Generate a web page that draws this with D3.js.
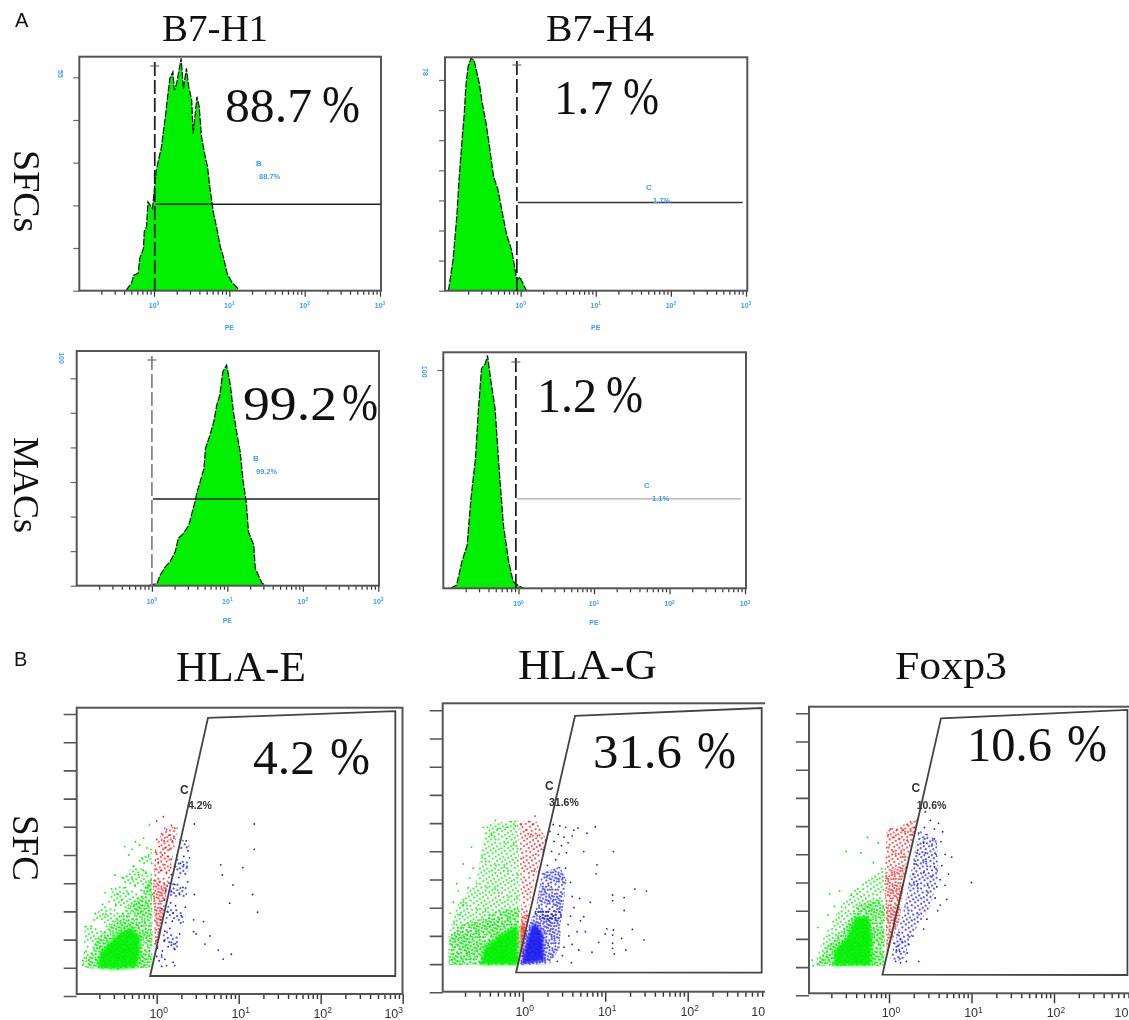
<!DOCTYPE html>
<html>
<head>
<meta charset="utf-8">
<script src="https://cdn.jsdelivr.net/npm/d3@7"></script>
<style>
  html, body { margin: 0; background: #fff; }
  svg { display: block; filter: blur(0.45px); }
  .serif { font-family: "Liberation Serif", serif; fill: #111; }
  .sans { font-family: "Liberation Sans", sans-serif; }
  .blue { fill: #3c9bf5; font-weight: bold; }
  .domain { display: none; }
</style>
</head>
<body>
<div id="chart"></div>
<script>
// ---- A: histogram outlines, x as log10(PE), y as events ----
const b7h1SfcExp = [-.37,-.34,-.30,-.27,-.21,-.19,-.14,-.13,-.10,-.08,-.02,0,.03,.06,.10,.12,.15,.18,.21,.25,.27,.30,.34,.36,.39,.43,.46,.50,.52,.57,.60,.63,.68,.71,.74,.79,.83,.88,.92,.97,1.03,1.11,1.12];
const b7h1SfcCount = [0,.9,1.9,4,4.5,8.3,10.9,15.2,16.5,22.9,21.2,25.1,31.1,33.7,37.1,40.5,44.8,50,54.7,56.4,51.7,53.4,57.7,59.9,52.1,57.3,52.6,49.1,40.5,50,47.4,39.7,34.5,32,26.8,19.9,16.5,11.3,8.8,4.5,2.3,.6,0];
const b7h4SfcExp = [-.96,-.94,-.90,-.85,-.82,-.78,-.75,-.73,-.70,-.66,-.62,-.59,-.55,-.51,-.46,-.42,-.36,-.30,-.25,-.19,-.12,-.08,-.05,-.01,.04,.08];
const b7h4SfcCount = [0,3.5,10.2,24.6,36.8,50,58.9,67.7,74.4,77.2,76.6,73.3,68.9,62.2,55.6,48.9,37.9,33.4,26.8,19,13.5,8,3.5,4.6,1.9,0];
const b7h1MacExp = [-.04,.07,.11,.18,.24,.31,.35,.42,.49,.53,.56,.60,.64,.69,.71,.77,.82,.86,.90,.94,.99,1.04,1.08,1.13,1.17,1.21,1.25,1.28,1.35,1.37,1.46,1.52];
const b7h1MacCount = [0,1.4,6.2,11,13.9,19.7,27.4,30.3,35.1,41.9,46.7,54.4,60.2,67.9,79.5,87.2,94.9,104.6,110.3,123.8,127.7,116.1,100.7,87.2,77.5,60.2,48.6,31.2,23.5,10,1.4,0];
const b7h4MacExp = [-.90,-.82,-.75,-.68,-.63,-.57,-.53,-.49,-.44,-.41,-.37,-.31,-.26,-.20,-.13,-.07,0,.07];
const b7h4MacCount = [0,1.5,12.2,19.8,41.1,59.4,82.3,100.6,102.9,106.7,96,82.3,56.4,29,12.2,3,1.2,0];

// ---- B: gates and events, [log10(x), y in tick units] ----
const hlaEGate = [[-.08,.71],[.625,9.86],[2.91,10.1],[2.91,.71]];
const hlaGGate = [[-.08,.71],[.634,9.8],[2.897,10.08],[2.897,.7]];
const foxp3Gate = [[-.08,.73],[.63,9.82],[2.89,10.12],[2.89,.72]];

// regions too crowded to read single events: outline + how full it looks (1 = speckle, "solid" = merged)
const hlaEAreas = [
  {c:"g",d:.4,p:[[-.9,.98],[-.88,2.4],[-.66,3.2],[-.5,3.9],[-.35,4.4],[-.22,4.9],[-.06,5.2],[-.05,1]]},
  {c:"g",d:1,p:[[-.85,.98],[-.82,1.6],[-.66,2.25],[-.5,2.7],[-.36,3.1],[-.2,3.6],[-.06,4.2],[-.05,2.2],[-.07,1],[-.5,.93]]},
  {c:"r",d:1,p:[[-.02,1.81],[-.05,4],[.14,4],[.04,2.1]]},
  {c:"r",d:.45,p:[[-.04,4],[-.02,5.3],[.1,6],[.26,6],[.14,4]]},
  {c:"b",d:.25,p:[[.03,1.3],[.12,3],[.28,5.6],[.4,5.4],[.36,3],[.25,1.6]]},
  {c:"g",solid:true,p:[[-.72,1],[-.7,1.5],[-.58,1.9],[-.44,2.3],[-.3,2.4],[-.2,2.1],[-.2,1.5],[-.25,1],[-.5,.95]]}
];
const hlaGAreas = [
  {c:"g",d:.55,p:[[-.88,.97],[-.9,1.97],[-.8,3.04],[-.56,3.98],[-.44,5.99],[-.05,6.1],[-.03,2.56],[-.04,.97]]},
  {c:"g",d:1,p:[[-.9,.97],[-.9,1.9],[-.75,2.4],[-.5,2.6],[-.3,2.9],[-.05,3],[-.04,.97]]},
  {c:"r",d:1,p:[[-.03,1.09],[-.02,2.68],[.07,2.8],[.02,1.3]]},
  {c:"r",d:.5,p:[[-.02,2.68],[-.04,6.1],[.17,6.05],[.29,5.4],[.15,4.1],[.05,2.68]]},
  {c:"b",d:.9,p:[[.15,2.8],[.23,4.22],[.45,4.46],[.53,3.98],[.47,2.56],[.29,2.5]]},
  {c:"b",d:1,p:[[-.03,.97],[.05,2.21],[.15,2.9],[.47,2.9],[.45,1.6],[.33,1]]},
  {c:"g",solid:true,p:[[-.52,.98],[-.46,1.6],[-.3,2],[-.06,2.4],[-.05,.98]]},
  {c:"b",solid:true,p:[[-.02,1],[.06,2],[.14,2.5],[.25,2.1],[.26,1.1]]},
  {c:"r",solid:true,p:[[-.03,1.3],[-.02,2.4],[.03,2.4]]}
];
const foxp3Areas = [
  {c:"g",d:.5,p:[[-.9,1.08],[-.8,2],[-.6,3.1],[-.38,3.9],[-.05,4.5],[-.05,1.7],[-.06,1.04]]},
  {c:"g",d:1,p:[[-.88,1.04],[-.76,1.7],[-.55,2.35],[-.38,3.2],[-.12,3.4],[-.05,3.1],[-.06,1.04]]},
  {c:"r",d:1,p:[[-.03,1.49],[-.05,4.33],[.21,4.68],[.13,2.67],[.03,1.84]]},
  {c:"r",d:.6,p:[[-.05,4.33],[-.03,5.86],[.34,6.22],[.21,4.68]]},
  {c:"b",d:.55,p:[[.01,1.25],[.17,2.91],[.25,4.09],[.36,5.86],[.58,5.51],[.6,4.21],[.5,3.14],[.29,2.2],[.17,1.19]]},
  {c:"g",solid:true,p:[[-.68,1.05],[-.66,1.6],[-.52,2.05],[-.4,2.8],[-.24,2.8],[-.2,1.9],[-.22,1.05]]}
];

const hlaEGreen = [[-.09,6.06],[-.16,5.6],[-.26,5.47],[-.39,5.3],[-.3,5.2],[-.21,5.35],[-.12,5.25],[-.07,5.2],[-.34,5],[-.18,4.9],[-.1,4.95],[-.28,4.6],[-.16,4.45],[-.06,4.7],[-.51,4.29],[-.42,4.2],[-.3,4.15],[-.22,4.3],[-.13,4.35],[-.07,4.1],[-.63,3.66],[-.55,3.8],[-.47,3.6],[-.38,3.85],[-.35,3.65],[-.26,3.9],[-.19,3.75],[-.11,3.85],[-.05,3.6],[-.66,3.25],[-.58,3.35],[-.5,3.2],[-.43,3.4],[-.75,2.93],[-.62,2.9],[-.87,2.46],[-.8,2.4],[-.9,1.25],[-.9,1.1],[-.86,1.35],[-.84,1.75],[-.88,1.55]];
const hlaERed = [[.08,6.36],[0,6.2],[.18,6.05],[.22,5.95],[.12,5.9],[.06,5.75],[.15,5.7],[.21,5.6],[0,5.55],[.09,5.5],[.19,5.5],[.03,5.3],[.1,5.25],[.16,5.2],[-.01,5.1],[.07,5],[.14,4.95],[.18,4.85],[.02,4.75],[.1,4.65],[.17,4.55],[-.02,4.5],[.05,4.45],[.12,4.35],[.15,4.2],[-.03,4.1],[.03,4.05],[.09,4],[.13,3.9],[-.02,1.85],[.01,1.75],[-.01,1.95]];
const hlaEBlue = [[.46,6.1],[1.19,6.1],[1.19,5.2],[.78,4.65],[1.05,4.55],[.8,4.29],[.93,3.94],[1.17,3.6],[.89,3.29],[1.23,2.97],[.65,2.13],[.59,1.84],[.75,1.63],[.81,1.31],[.91,1.48],[.29,5.55],[.36,5.5],[.3,5.25],[.38,5.15],[.25,5],[.33,4.95],[.4,4.9],[.22,4.6],[.29,4.7],[.33,4.65],[.37,4.6],[.18,4.3],[.27,4.2],[.38,4.05],[.15,4],[.22,3.95],[.32,3.85],[.11,3.75],[.18,3.7],[.28,3.6],[.46,3.6],[.09,3.4],[.17,3.3],[.23,3.2],[.35,3.15],[.06,3.1],[.13,3],[.2,2.95],[.3,2.85],[.05,2.7],[.11,2.6],[.19,2.65],[.45,2.7],[.57,2.64],[.04,2.35],[.1,2.3],[.16,2.4],[.28,2.2],[.45,2.28],[.48,2.2],[.02,2],[.09,1.95],[.18,1.9],[.23,1.85],[.01,1.7],[.07,1.6],[.14,1.75],[.22,1.65],[0,1.4],[.06,1.45],[.03,1.25],[.1,1.3],[.12,1.08],[.2,1.2],[.22,1.08],[.06,1.05]];

const hlaGGreen = [[-.33,6.1],[-.14,6.05],[-.48,5.85],[-.3,5.8],[-.2,5.85],[-.09,5.9],[-.38,5.6],[-.62,5.15],[-.72,4.55],[-.6,4.4],[-.8,3.85],[-.64,4.05],[-.78,3.6],[-.66,3.7],[-.84,3.2],[-.72,3.1],[-.88,2.8],[-.76,2.75]];
const hlaGRed = [[.15,6.25],[.07,6.05],[.12,5.95],[-.02,5.95],[.04,5.75],[.1,5.6],[.18,5.55],[.21,5.2],[.16,4.9],[.14,4.3]];
const hlaGBlue = [[.88,5.87],[.78,5.64],[.67,5.82],[.74,4.99],[1.1,4.99],[.9,4.52],[.89,4.2],[1.36,3.66],[1.5,3.59],[1.09,3.45],[1.23,3.36],[1.09,3.25],[1.23,2.9],[.82,3.19],[.69,3.33],[1.02,2.25],[1.1,2.21],[1,2.07],[1.09,2.03],[1.2,1.91],[1.33,2.23],[1.47,1.86],[.92,1.77],[1.09,1.74],[1.09,1.56],[1.25,1.5],[1.11,1.36],[.84,1.42],[.76,2.15],[.74,2.68],[.7,2.54],[.59,1.05],[.37,5.95],[.45,5.9],[.52,5.85],[.62,5.75],[.33,5.7],[.43,5.6],[.5,5.5],[.6,5.55],[.28,5.4],[.38,5.35],[.47,5.2],[.55,5.3],[.25,5.05],[.35,5],[.44,4.9],[.53,4.95],[.6,3.4],[.62,3],[.58,2.7],[.55,2.4],[.66,2.15],[.56,2],[.6,1.7],[.68,1.5],[.5,1.6],[.48,1.3],[.42,1.1],[.58,3.9],[.52,4.4],[.3,4.5],[.4,4.7],[.2,4.3]];

const foxp3Green = [[-.26,5.6],[-.13,5.4],[-.52,5.1],[-.34,5.05],[-.19,4.7],[-.09,4.5],[-.72,3.6],[-.6,3.7],[-.46,3.55],[-.66,3.15],[-.74,2.85],[-.86,2.4],[-.93,1.25],[-.92,1.05]];
const foxp3Red = [[.34,6.2],[.26,6.15],[.22,6.05],[.31,5.95],[.02,5.9],[.09,5.85],[.17,5.85],[.28,5.7],[-.01,5.7],[.06,5.6],[.13,5.55],[.22,5.5]];
const foxp3Blue = [[.44,6.5],[.5,6.2],[.6,6.1],[.43,5.95],[.55,5.9],[.65,5.8],[.36,5.75],[.46,5.7],[.55,5.55],[.42,5.4],[.52,5.3],[.63,5.45],[.76,4.9],[.68,5],[.34,5.05],[.44,5.05],[.57,5],[.33,4.65],[.45,4.75],[.55,4.55],[.64,4.6],[.3,4.3],[.42,4.35],[.52,4.2],[.62,4.1],[.72,4.3],[.25,3.95],[.35,3.95],[.47,3.9],[.58,3.85],[.68,3.9],[.56,3.45],[.7,3.4],[.62,3.2],[.59,3],[.46,2.7],[.42,2.35],[.29,2.1],[.24,1.8],[.22,1.5],[.08,1.2],[.14,1.15],[.21,1.2],[1,4],[.36,1.2],[.1,2.15],[.14,2],[.06,1.85],[.11,1.75],[.16,1.9],[.09,1.6],[.13,1.55]];

// speckle tile for the crowded regions, hand placed
const speckleTile = [[1,2],[5,1],[9,3],[14,1],[19,2],[22,5],[3,6],[7,6],[12,5],[17,6],[1,9],[5,10],[10,8],[15,9],[20,9],[23,11],[3,13],[8,12],[13,12],[18,12],[1,16],[6,16],[11,15],[16,15],[21,14],[4,19],[9,18],[14,18],[19,17],[23,19],[2,22],[7,21],[12,21],[17,21],[21,22],[10,23],
  [3,3],[11,1],[16,3],[21,1],[6,4],[14,4],[20,6],[1,6],[9,6],[18,9],[12,9],[7,9],[3,10],[23,8],[16,11],[10,11],[5,13],[21,12],[1,13],[14,15],[8,15],[18,15],[3,16],[23,16],[11,18],[6,18],[17,18],[21,19],[1,20],[15,21],[9,21],[4,22],[19,23],[13,23]];

const majorTicks = [1, 10, 100, 1000];
const minorTicks = [.2,.3,.4,.5,.6,.7,.8,.9,2,3,4,5,6,7,8,9,20,30,40,50,60,70,80,90,200,300,400,500,600,700,800,900];

const width = 1129, height = 1020;
const green = "#00f000", red = "#f41c1c", blue = "#1a1aee", sky = "#3c9bf5";
const dotFill = { g: green, r: red, b: blue };

const svg = d3.select("#chart").append("svg")
  .attr("width", width).attr("height", height)
  .attr("viewBox", [0, 0, width, height]);
const defs = svg.append("defs");

function speckle(colorKey, density) {
  const id = `sp-${colorKey}-${Math.round(density * 100)}`;
  if (defs.select("#" + id).empty()) {
    const pat = defs.append("pattern").attr("id", id)
      .attr("patternUnits", "userSpaceOnUse").attr("width", 24).attr("height", 24)
      .attr("patternTransform", "rotate(23)");
    pat.selectAll("circle").data(speckleTile.slice(0, Math.round(density * speckleTile.length))).join("circle")
      .attr("cx", d => d[0]).attr("cy", d => d[1]).attr("r", .95).attr("fill", dotFill[colorKey]);
  }
  return `url(#${id})`;
}

function serifLabel(txt, x, right, baseline, size) {
  svg.append("text").attr("class", "serif")
    .attr("x", x).attr("y", baseline)
    .attr("font-size", size)
    .attr("textLength", right - x)
    .attr("lengthAdjust", "spacingAndGlyphs")
    .text(txt);
}

function bigPercent(num, numRight, pctLeft, pctRight, numLeft, baseline) {
  serifLabel(num, numLeft, numRight, baseline, 48);
  serifLabel("%", pctLeft, pctRight, baseline, 53);
}

function powerLabels(g, x, ticks, y, size, color, weight, shift, noSup) {
  const t = g.selectAll("text.pow").data(ticks).join("text")
    .attr("class", "pow sans")
    .attr("x", d => x(d) + (shift ? shift(d) : 0))
    .attr("y", y)
    .attr("text-anchor", "middle")
    .attr("font-size", size)
    .attr("fill", color)
    .attr("font-weight", weight);
  t.append("tspan").text("10");
  t.filter(d => !(noSup && d === 1000))
    .append("tspan").attr("font-size", size * .68).attr("dy", -size * .38)
    .text(d => "" + Math.round(Math.log10(d)));
}

// ---- A: histogram panels ----
function histPanel(p) {
  const g = svg.append("g");
  const x = d3.scaleLog().domain([.1, 1000]).range(p.xRange);
  const y = d3.scaleLinear().domain([0, p.yTop]).range(p.yRange);

  const pts = p.exps.map((e, i) => [x(10 ** e), y(p.counts[i])]);
  g.append("path").datum(pts)
    .attr("fill", green)
    .attr("d", d3.area().x(d => d[0]).y0(y(0)).y1(d => d[1]));
  g.append("path").datum(pts)
    .attr("fill", "none").attr("stroke", "#111").attr("stroke-width", 1.2)
    .attr("stroke-dasharray", "7 1.5")
    .attr("d", d3.line());

  // axes
  const bx = g.append("g").attr("transform", `translate(0,${p.frame[3]})`);
  bx.append("g").call(d3.axisBottom(x).tickValues(minorTicks).tickSize(4).tickFormat(""))
    .selectAll("line").attr("stroke", "#333").attr("stroke-width", 1.2);
  bx.append("g").call(d3.axisBottom(x).tickValues(majorTicks).tickSize(6).tickFormat(""))
    .selectAll("line").attr("stroke", "#333").attr("stroke-width", 1.2);
  powerLabels(bx, x, majorTicks, p.tickLabelDy, 7, sky, "bold");

  g.append("g").attr("transform", `translate(${p.frame[0]},0)`)
    .call(d3.axisLeft(y).tickValues(p.yTicks).tickSize(6).tickFormat(""))
    .selectAll("line").attr("stroke", "#666").attr("stroke-width", 1.2);

  g.append("rect")
    .attr("x", p.frame[0]).attr("y", p.frame[1])
    .attr("width", p.frame[2] - p.frame[0]).attr("height", p.frame[3] - p.frame[1])
    .attr("fill", "none").attr("stroke", "#555").attr("stroke-width", 2);

  // marker gate
  const gx = x(10 ** p.gateExp);
  g.append("line").attr("x1", gx).attr("x2", gx).attr("y1", p.crossY - 4).attr("y2", p.frame[3])
    .attr("stroke", p.gateColor).attr("stroke-width", 1.8).attr("stroke-dasharray", "14 4");
  g.append("line").attr("x1", gx - 4.5).attr("x2", gx + 4.5).attr("y1", p.crossY).attr("y2", p.crossY)
    .attr("stroke", "#555");
  g.append("line").attr("x1", gx + 1).attr("x2", p.lineEnd)
    .attr("y1", y(p.gateCount)).attr("y2", y(p.gateCount))
    .attr("stroke", p.lineColor).attr("stroke-width", p.lineWidth);

  // tiny blue texts
  g.append("text").attr("class", "sans blue").attr("font-size", 8)
    .attr("x", p.letter[0]).attr("y", p.letter[1]).text(p.letter[2]);
  g.append("text").attr("class", "sans blue").attr("font-size", 7.5)
    .attr("x", p.pct[0]).attr("y", p.pct[1]).text(p.pct[2]);
  g.append("text").attr("class", "sans blue").attr("font-size", 7)
    .attr("text-anchor", "middle")
    .attr("transform", `translate(${p.yLabel[0]},${p.yLabel[1]}) rotate(90)`)
    .text(p.yLabel[2]);
  g.append("text").attr("class", "sans blue").attr("font-size", 7)
    .attr("text-anchor", "middle")
    .attr("x", x(10)).attr("y", p.pe).text("PE");
}

histPanel({
  exps: b7h1SfcExp, counts: b7h1SfcCount, frame: [79.3, 56.7, 381, 290.7],
  xRange: [78.7, 380], yRange: [290.7, 77.3], yTop: 55, yTicks: [0, 11, 22, 33, 44, 55],
  gateExp: .01, crossY: 66, gateColor: "#222", gateCount: 22.3, lineEnd: 381, lineColor: "#222", lineWidth: 1.6,
  letter: [256, 166, "B"], pct: [259, 179, "88.7%"], yLabel: [58, 74, "55"], pe: 330, tickLabelDy: 17
});
histPanel({
  exps: b7h4SfcExp, counts: b7h4SfcCount, frame: [445, 57.3, 747.3, 290.7],
  xRange: [445.5, 746], yRange: [290.7, 80], yTop: 70, yTicks: [0, 10, 20, 30, 40, 50, 60, 70],
  gateExp: -.05, crossY: 65, gateColor: "#222", gateCount: 29.3, lineEnd: 742.7, lineColor: "#333", lineWidth: 1.4,
  letter: [646, 190, "C"], pct: [653, 203, "1.7%"], yLabel: [423, 72, "78"], pe: 330, tickLabelDy: 17
});
histPanel({
  exps: b7h1MacExp, counts: b7h1MacCount, frame: [76.7, 351, 379, 585.7],
  xRange: [76.4, 378.3], yRange: [585.7, 378.3], yTop: 120, yTicks: [0, 20, 40, 60, 80, 100, 120],
  gateExp: 0, crossY: 360, gateColor: "#888", gateCount: 50.2, lineEnd: 379, lineColor: "#222", lineWidth: 1.4,
  letter: [253, 461, "B"], pct: [256, 474, "99.2%"], yLabel: [59, 358, "100"], pe: 623, tickLabelDy: 18
});
histPanel({
  exps: b7h4MacExp, counts: b7h4MacCount, frame: [443.3, 352.3, 746, 588.3],
  xRange: [443, 745], yRange: [588.3, 370], yTop: 100, yTicks: [100],
  gateExp: -.035, crossY: 362, gateColor: "#222", gateCount: 41, lineEnd: 741, lineColor: "#aaa", lineWidth: 1.2,
  letter: [644, 488, "C"], pct: [652, 501, "1.1%"], yLabel: [421.7, 371.7, "100"], pe: 625, tickLabelDy: 18
});

// ---- B: scatter panels ----
function scatterPanel(p, idx) {
  svg.append("clipPath").attr("id", "clip" + idx)
    .append("rect").attr("x", p.frame[0] - 30).attr("y", p.frame[1] - 10)
    .attr("width", p.clipRight - p.frame[0] + 30).attr("height", height - p.frame[1] + 10);
  const g = svg.append("g").attr("clip-path", `url(#clip${idx})`);

  const x = d3.scaleLog().domain([.1, 1000]).range(p.xRange);
  const y = d3.scaleLinear().domain([0, 10]).range(p.yRange);
  const px = d => x(10 ** d[0]), py = d => y(d[1]);
  const outline = d3.line().x(px).y(py);

  g.append("g").selectAll("path").data(p.areas.filter(a => !a.solid)).join("path")
    .attr("fill", d => speckle(d.c, d.d))
    .attr("d", d => outline(d.p) + "Z");
  g.append("g").style("filter", "blur(1.4px)")
    .selectAll("path").data(p.areas.filter(a => a.solid)).join("path")
    .attr("fill", d => dotFill[d.c]).attr("fill-opacity", .92)
    .attr("d", d => outline(d.p) + "Z");

  [[p.greens, green], [p.reds, red], [p.blues, blue]].forEach(([pts, col]) => {
    g.append("g").selectAll("circle").data(pts).join("circle")
      .attr("cx", px).attr("cy", py).attr("r", .9).attr("fill", col);
  });

  // gate
  g.append("path")
    .attr("d", outline(p.gate) + "Z")
    .attr("fill", "none").attr("stroke", "#444").attr("stroke-width", 1.8);

  // axes
  const bx = g.append("g").attr("transform", `translate(0,${p.frame[3]})`);
  bx.append("g").call(d3.axisBottom(x).tickValues(minorTicks).tickSize(5).tickFormat(""))
    .selectAll("line").attr("stroke", "#333").attr("stroke-width", 1.4);
  bx.append("g").call(d3.axisBottom(x).tickValues(majorTicks).tickSize(10).tickFormat(""))
    .selectAll("line").attr("stroke", "#333").attr("stroke-width", 1.4);
  powerLabels(bx, x, majorTicks, 24, 12.5, "#333", "normal", d => d === 1000 ? p.lastShift : 2, p.lastNoSup);

  g.append("g").attr("transform", `translate(${p.frame[0]},0)`)
    .call(d3.axisLeft(y).tickValues(d3.range(0, 11)).tickSize(13).tickFormat(""))
    .selectAll("line").attr("stroke", "#555").attr("stroke-width", 1.6);

  g.append("rect")
    .attr("x", p.frame[0]).attr("y", p.frame[1])
    .attr("width", p.frame[2] - p.frame[0]).attr("height", p.frame[3] - p.frame[1])
    .attr("fill", "none").attr("stroke", "#555").attr("stroke-width", 2);

  g.append("text").attr("class", "sans").attr("font-size", 12).attr("font-weight", "bold").attr("fill", "#333")
    .attr("x", p.letter[0]).attr("y", p.letter[1]).text("C");
  g.append("text").attr("class", "sans").attr("font-size", 10.5).attr("font-weight", "bold").attr("fill", "#333")
    .attr("x", p.pct[0]).attr("y", p.pct[1]).text(p.pct[2]);
}

[
  { frame: [76.7, 707.7, 402.5, 994], clipRight: 410, xRange: [74.7, 402.7], yRange: [996, 714], lastShift: -9, lastNoSup: false,
    gate: hlaEGate, areas: hlaEAreas, greens: hlaEGreen, reds: hlaERed, blues: hlaEBlue,
    letter: [180, 794], pct: [188, 809, "4.2%"] },
  { frame: [442.7, 703.3, 790, 991.7], clipRight: 765, xRange: [440.2, 770.2], yRange: [992.3, 710.3], lastShift: -12, lastNoSup: true,
    gate: hlaGGate, areas: hlaGAreas, greens: hlaGGreen, reds: hlaGRed, blues: hlaGBlue,
    letter: [545, 790], pct: [549, 806, "31.6%"] },
  { frame: [809, 706.7, 1160, 993.3], clipRight: 1129, xRange: [806.5, 1136.5], yRange: [995.3, 713.3], lastShift: -15, lastNoSup: true,
    gate: foxp3Gate, areas: foxp3Areas, greens: foxp3Green, reds: foxp3Red, blues: foxp3Blue,
    letter: [911.5, 792], pct: [916.7, 809, "10.6%"] }
].forEach(scatterPanel);

// ---- titles, big percentages, row labels ----
serifLabel("B7-H1", 162, 268, 41, 37);
serifLabel("B7-H4", 546, 654, 41, 37);
serifLabel("HLA-E", 176, 306, 681, 43);
serifLabel("HLA-G", 518, 657, 679, 43);
serifLabel("Foxp3", 895, 1007, 679, 39);

bigPercent("88.7", 312, 322, 360, 225, 121.7);
bigPercent("1.7", 613, 623, 659, 554, 114);
bigPercent("99.2", 337, 342, 378, 243, 420);
bigPercent("1.2", 597, 606, 643, 537, 411.7);
bigPercent("4.2", 315, 330, 370, 253, 774);
bigPercent("31.6", 682, 697, 736, 593, 767.7);
bigPercent("10.6", 1052, 1067, 1107, 967, 760.7);

[["SFCs", 14, 150, 38], ["MACs", 14, 437, 36], ["SFC", 13, 815, 37]].forEach(([t, lx, ly, s]) => {
  svg.append("text").attr("class", "serif").attr("font-size", s)
    .attr("transform", `translate(${lx},${ly}) rotate(90)`).text(t);
});

svg.append("text").attr("class", "sans").attr("font-size", 20).attr("fill", "#111").attr("x", 15).attr("y", 27).text("A");
svg.append("text").attr("class", "sans").attr("font-size", 20).attr("fill", "#111").attr("x", 14).attr("y", 666).text("B");
</script>
</body>
</html>
